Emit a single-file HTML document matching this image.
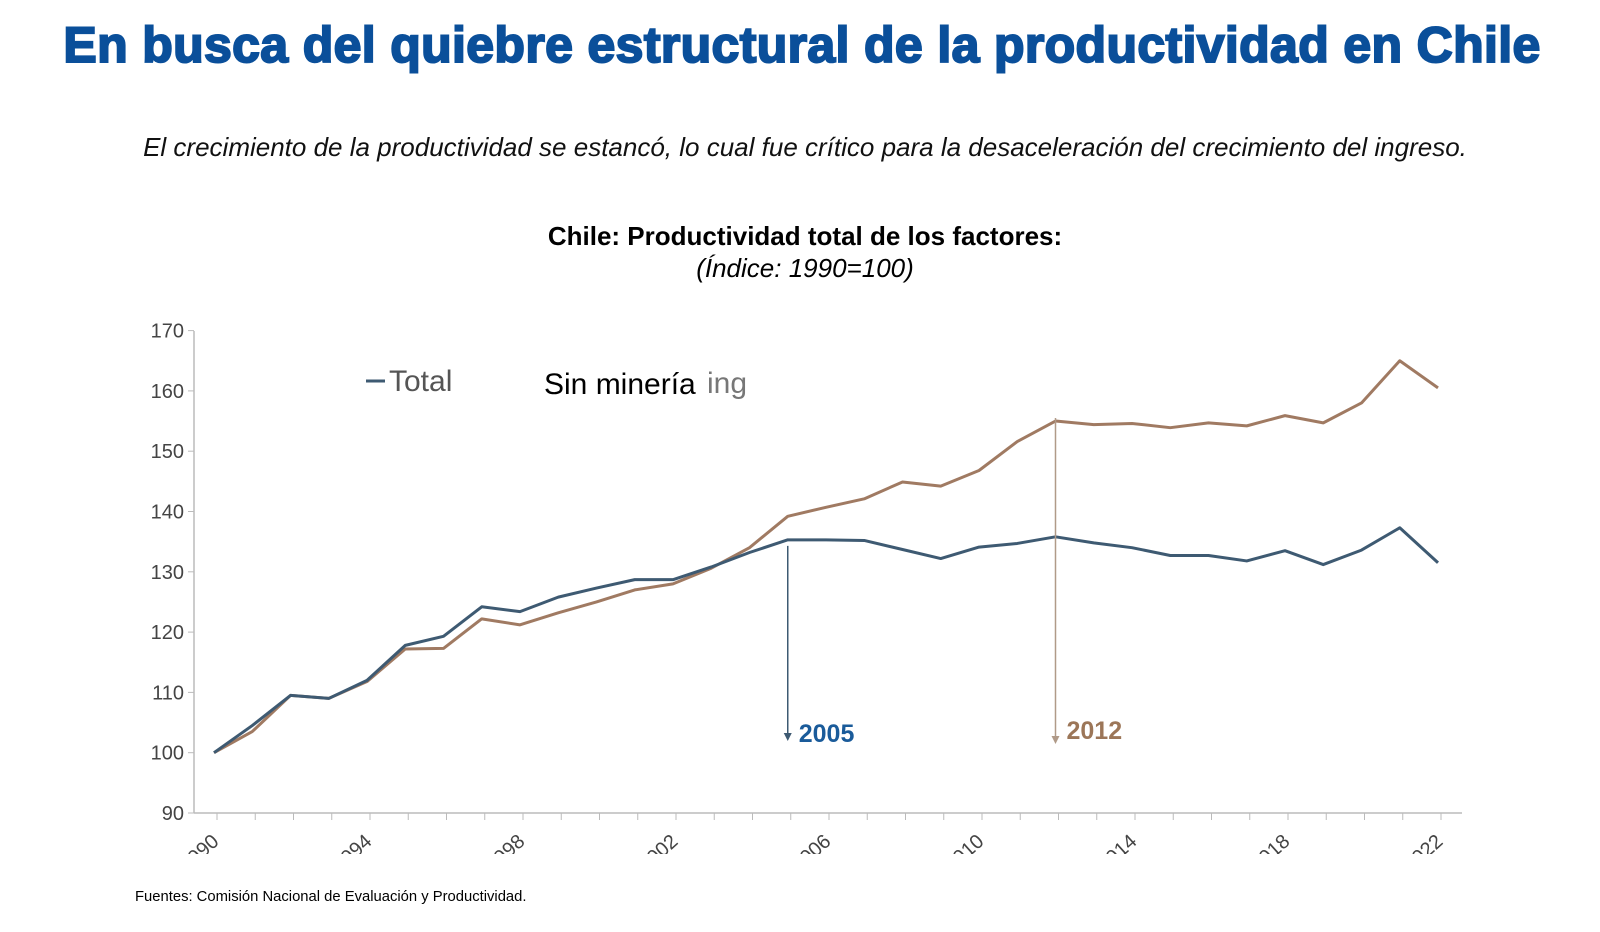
<!DOCTYPE html>
<html><head><meta charset="utf-8"><style>
body{margin:0;background:#fff;width:1600px;height:932px;overflow:hidden;font-family:"Liberation Sans",Arial,sans-serif;position:relative}
.abs{position:absolute}
</style></head><body>
<div class="abs" style="left:0;width:1604px;top:16px;text-align:center;font-size:50px;font-weight:bold;color:#0a4f9a;-webkit-text-stroke:2px #0a4f9a;letter-spacing:0.35px;white-space:nowrap">En busca del quiebre estructural de la productividad en Chile</div>
<div class="abs" style="left:0;width:1610px;top:132px;text-align:center;font-size:26px;font-style:italic;color:#111;white-space:nowrap">El crecimiento de la productividad se estancó, lo cual fue crítico para la desaceleración del crecimiento del ingreso.</div>
<div class="abs" style="left:0;width:1610px;top:221px;text-align:center;font-size:26px;font-weight:bold;color:#000">Chile: Productividad total de los factores:</div>
<div class="abs" style="left:0;width:1610px;top:253px;text-align:center;font-size:26px;font-style:italic;color:#000">(Índice: 1990=100)</div>
<div class="abs" style="left:135px;top:889px;font-size:14.8px;color:#000">Fuentes: Comisión Nacional de Evaluación y Productividad.</div>
<svg class="abs" style="left:0;top:0" width="1600" height="932">
<defs><clipPath id="cl"><rect x="0" y="820" width="1600" height="34"/></clipPath></defs>
<g id="axes"></g><g id="lines"></g>
<g>
<line x1="366" y1="381" x2="385" y2="381" stroke="#3e5a72" stroke-width="3"/>
<text x="389" y="391" font-size="30" fill="#555">Total</text>
<text x="707" y="393" font-size="30" fill="#777">ing</text>
<text x="544" y="394" font-size="30" fill="#000">Sin minería</text>
</g>
</svg>
<script>
const years=[1990,1991,1992,1993,1994,1995,1996,1997,1998,1999,2000,2001,2002,2003,2004,2005,2006,2007,2008,2009,2010,2011,2012,2013,2014,2015,2016,2017,2018,2019,2020,2021,2022];
const totalVals=[100,104.5,109.5,109,112,117.8,119.3,124.2,123.4,125.8,127.3,128.7,128.7,130.8,133.2,135.3,135.3,135.2,133.7,132.2,134.1,134.7,135.8,134.8,134.0,132.7,132.7,131.8,133.5,131.2,133.6,137.3,131.5];
const sinMineriaVals=[100,103.5,109.5,109,111.8,117.2,117.3,122.2,121.2,123.2,125,127,128,130.6,134,139.2,140.7,142.1,144.9,144.2,146.8,151.6,155,154.4,154.6,153.9,154.7,154.2,155.9,154.7,158,165,160.5];
const yTicks=[90,100,110,120,130,140,150,160,170];
const xLabels=["1990","1994","1998","2002","2006","2010","2014","2018","2022"];
const NS="http://www.w3.org/2000/svg";
const xs=y=>214+(y-1990)*38.25;
const ys=v=>813-(v-90)*6.03;
function mk(t,a,p){const e=document.createElementNS(NS,t);for(const k in a)e.setAttribute(k,a[k]);p.appendChild(e);return e;}
const ax=document.getElementById('axes'),ln=document.getElementById('lines');
const ya=mk('line',{x1:194,y1:331,x2:194,y2:813,stroke:'#bbb','stroke-width':1.5},ax);


const xa=mk('line',{x1:194,y1:813,x2:1462,y2:813,stroke:'#bbb','stroke-width':1.5},ax);


yTicks.forEach(v=>{
 mk('line',{x1:188,y1:ys(v),x2:194,y2:ys(v),stroke:'#bbb'},ax);
 const t=mk('text',{x:184,y:ys(v)+7,'text-anchor':'end','font-size':20,fill:'#444'},ax);t.textContent=v;
 
 
});
years.forEach(y=>mk('line',{x1:xs(y)+3,y1:813,x2:xs(y)+3,y2:820,stroke:'#bbb'},ax));
const cg=mk('g',{'clip-path':'url(#cl)'},ax);
xLabels.forEach(l=>{
 const x=xs(+l)+6;
 const t=mk('text',{x:x,y:843,'text-anchor':'end','font-size':20,fill:'#444',transform:`rotate(-42 ${x} 843)`},cg);t.textContent=l;
 
 
});
function series(vals,col,name){
 const p=mk('polyline',{points:vals.map((v,i)=>xs(years[i])+','+ys(v)).join(' '),fill:'none',stroke:col,'stroke-width':3,'stroke-linejoin':'round'},ln);
 
 
}
series(sinMineriaVals,'#a07a62','sin-mineria-line');
series(totalVals,'#3e5a72','total-line');
function arrow(yr,val,col,tcol,name,tipY,dy){
 const x=xs(yr);
 const g=mk('g',{},ln);
 
 
 mk('line',{x1:x,y1:ys(val)+6,x2:x,y2:tipY-6,stroke:col,'stroke-width':1.5},g);
 mk('polygon',{points:`${x-4},${tipY-8} ${x+4},${tipY-8} ${x},${tipY}`,fill:col},g);
 const t=mk('text',{x:x+11,y:tipY+dy,'font-size':25,'font-weight':'bold',fill:tcol},g);t.textContent=yr;
}
arrow(2005,totalVals[15],'#3e5a72','#1a5b9a','arrow-2005',741,1);
arrow(2012,sinMineriaVals[22]+1.5,'#b09a88','#9c7658','arrow-2012',744,-5);
</script>
</body></html>
